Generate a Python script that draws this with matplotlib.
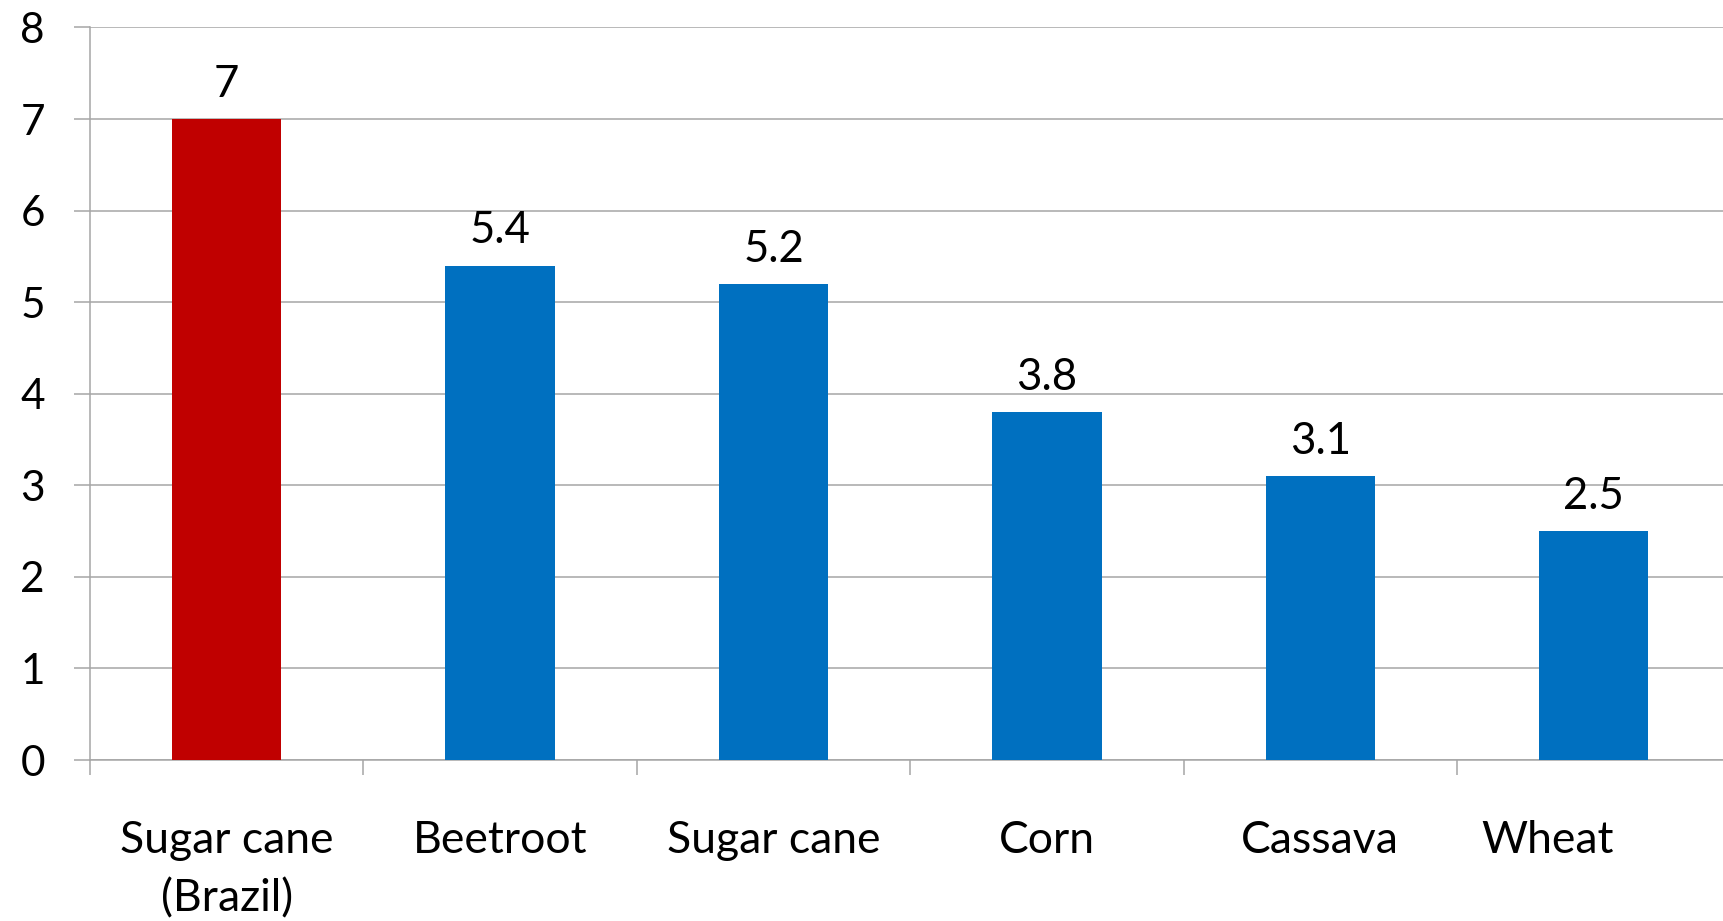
import matplotlib
matplotlib.use("Agg")
import matplotlib.pyplot as plt
import matplotlib.transforms as mtransforms

categories = ["Sugar cane\n(Brazil)", "Beetroot", "Sugar cane", "Corn", "Cassava", "Wheat"]
values = [7, 5.4, 5.2, 3.8, 3.1, 2.5]
bar_colors = ["#C00000", "#0070C0", "#0070C0", "#0070C0", "#0070C0", "#0070C0"]
y_ticks = [0, 1, 2, 3, 4, 5, 6, 7, 8]

plt.rcParams["font.family"] = ["Lato", "DejaVu Sans"]

W, H, DPI = 1724, 921, 100
fig = plt.figure(figsize=(W / DPI, H / DPI), dpi=DPI)
ax = fig.add_axes([90 / W, 1 - 760 / H, 6 * 273.4 / W, (760 - 27.5) / H])

grid_color = "#A6A6A6"
x = list(range(len(categories)))
ax.bar(x, values, width=0.40, color=bar_colors, zorder=3)

for xi, v in zip(x, values):
    ax.annotate(f"{v:g}", (xi, v), xytext=(0, 16), textcoords="offset points",
                ha="center", va="baseline", fontsize=31.5, color="black")

ax.set_xlim(-0.5, len(categories) - 0.5)
ax.set_ylim(0, 8)
ax.set_yticks(y_ticks)
ax.set_yticklabels([str(t) for t in y_ticks], fontsize=30.5)
ax.yaxis.grid(True, color=grid_color, linewidth=1.1, zorder=0)

# category labels at bar centres, tick marks on the category boundaries
ax.set_xticks(x)
ax.set_xticklabels(categories, fontsize=32, linespacing=1.53)
ax.tick_params(axis="x", which="major", length=0, pad=43)
ax.set_xticks([i + 0.5 for i in range(-1, len(categories))], minor=True)
ax.tick_params(axis="x", which="minor", length=11, width=1.1, color=grid_color, direction="out")
ax.tick_params(axis="y", length=11.5, width=1.1, color=grid_color, pad=21, direction="out")

wheat_label = ax.get_xticklabels()[-1]
wheat_label.set_transform(wheat_label.get_transform() +
                          mtransforms.ScaledTranslation(-46 / DPI, 0, fig.dpi_scale_trans))

for side in ["top", "right"]:
    ax.spines[side].set_visible(False)
ax.spines["left"].set_color(grid_color)
ax.spines["left"].set_linewidth(1.1)
ax.spines["bottom"].set_color(grid_color)
ax.spines["bottom"].set_linewidth(1.1)

fig.savefig("out.png", dpi=DPI, facecolor="white")
